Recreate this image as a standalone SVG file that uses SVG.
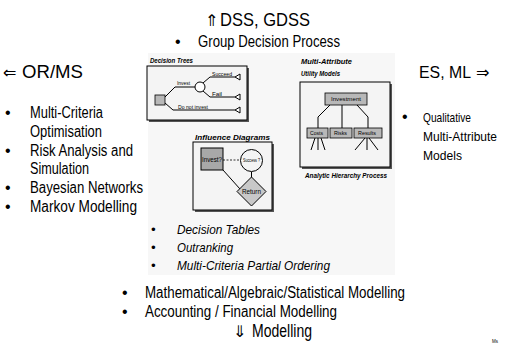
<svg xmlns="http://www.w3.org/2000/svg" width="508" height="344" viewBox="0 0 508 344">
<style>
  .t { font-family: "Liberation Sans", Arial, "DejaVu Sans", sans-serif; fill: #000; }
  .m { font-size: 16px; }
  .r { font-size: 13.5px; }
  .h { font-size: 18px; }
  .ar { font-family: "DejaVu Sans", "Liberation Sans", sans-serif; font-size: 16px; }
  .it { font-size: 13px; font-style: italic; }
  .lab { font-size: 7px; font-weight: bold; font-style: italic; }
  .tiny { font-size: 4.5px; }
  .box { fill: #f4f4f4; stroke: #000; stroke-width: 1; }
  .shd { fill: #555; }
  .ln { fill: none; stroke: #000; stroke-width: 1; }
  .tri { fill: #fff; stroke: #000; stroke-width: 1; }
  .gbox { fill: #b8b8b8; stroke: #000; stroke-width: 0.8; }
</style>
<rect width="508" height="344" fill="#fff"/>
<rect id="panel" x="148" y="53" width="247" height="222" fill="#f7f7f7"/>

<g id="top">
  <text class="ar" x="205" y="26" font-size="19">⇑</text>
  <text class="t h" x="220" y="26" textLength="90" lengthAdjust="spacingAndGlyphs">DSS, GDSS</text>
  <text class="t m" x="175" y="47">•</text>
  <text class="t m" x="198" y="47" textLength="142" lengthAdjust="spacingAndGlyphs">Group Decision Process</text>
</g>

<g id="left">
  <text class="ar" x="3" y="78" font-size="19">⇐</text>
  <text class="t h" x="22" y="78" textLength="61" lengthAdjust="spacingAndGlyphs">OR/MS</text>
  <text class="t m" x="5" y="118">•</text>
  <text class="t m" x="30" y="118" textLength="73" lengthAdjust="spacingAndGlyphs">Multi-Criteria</text>
  <text class="t m" x="30" y="137" textLength="72" lengthAdjust="spacingAndGlyphs">Optimisation</text>
  <text class="t m" x="5" y="156">•</text>
  <text class="t m" x="30" y="156" textLength="103" lengthAdjust="spacingAndGlyphs">Risk Analysis and</text>
  <text class="t m" x="30" y="174" textLength="59" lengthAdjust="spacingAndGlyphs">Simulation</text>
  <text class="t m" x="5" y="193">•</text>
  <text class="t m" x="30" y="193" textLength="113" lengthAdjust="spacingAndGlyphs">Bayesian Networks</text>
  <text class="t m" x="5" y="212">•</text>
  <text class="t m" x="30" y="212" textLength="107" lengthAdjust="spacingAndGlyphs">Markov Modelling</text>
</g>

<g id="right">
  <text class="t" x="419" y="78" font-size="16" textLength="52" lengthAdjust="spacingAndGlyphs">ES, ML</text>
  <text class="ar" x="476" y="78" font-size="19">⇒</text>
  <text class="t m" x="402" y="122">•</text>
  <text class="t r" x="423" y="122" textLength="48" lengthAdjust="spacingAndGlyphs">Qualitative</text>
  <text class="t r" x="423" y="141" textLength="74" lengthAdjust="spacingAndGlyphs">Multi-Attribute</text>
  <text class="t r" x="423" y="160" textLength="39" lengthAdjust="spacingAndGlyphs">Models</text>
</g>

<g id="decision-trees">
  <text class="t lab" x="150" y="63" textLength="43" lengthAdjust="spacingAndGlyphs">Decision Trees</text>
  <rect class="shd" x="149" y="68" width="100" height="54"/>
  <rect class="box" x="147" y="66" width="100" height="54"/>
  <rect class="gbox" x="155" y="95" width="10" height="10"/>
  <polyline class="ln" points="165,97 175,87 195,87"/>
  <circle cx="200" cy="87" r="5" fill="#fff" stroke="#000" stroke-width="1"/>
  <polyline class="ln" points="203,83 210,77 235,77"/>
  <polyline class="ln" points="203,91 210,97 235,97"/>
  <polyline class="ln" points="165,103 173,110 235,110"/>
  <polygon class="tri" points="235,77 240,74 240,80"/>
  <polygon class="tri" points="235,97 240,94 240,100"/>
  <polygon class="tri" points="235,110 240,107 240,113"/>
  <text class="t tiny" x="177" y="85" textLength="13" lengthAdjust="spacingAndGlyphs">Invest</text>
  <text class="t tiny" x="212" y="75.5" textLength="20" lengthAdjust="spacingAndGlyphs">Succeed</text>
  <text class="t tiny" x="212" y="95.5" textLength="10" lengthAdjust="spacingAndGlyphs">Fail</text>
  <text class="t tiny" x="178" y="108.5" textLength="30" lengthAdjust="spacingAndGlyphs">Do not invest</text>
</g>

<g id="maut">
  <text class="t lab" x="301" y="64" textLength="51" lengthAdjust="spacingAndGlyphs">Multi-Attribute</text>
  <text class="t lab" x="301" y="76" textLength="39" lengthAdjust="spacingAndGlyphs">Utility Models</text>
  <rect class="shd" x="302" y="84" width="90" height="85"/>
  <rect class="box" x="300" y="82" width="90" height="85"/>
  <rect class="gbox" x="325" y="93" width="42" height="12"/>
  <text class="t tiny" x="331" y="101" textLength="30" lengthAdjust="spacingAndGlyphs">Investment</text>
  <polyline class="ln" points="330,105 318,117 318,128"/>
  <polyline class="ln" points="342,105 342,128"/>
  <polyline class="ln" points="357,105 368,117 368,128"/>
  <rect class="gbox" x="307" y="128" width="21" height="10"/>
  <rect class="gbox" x="330" y="128" width="22" height="10"/>
  <rect class="gbox" x="354" y="128" width="28" height="10"/>
  <text class="t tiny" x="310" y="135" textLength="13" lengthAdjust="spacingAndGlyphs">Costs</text>
  <text class="t tiny" x="334" y="135" textLength="13" lengthAdjust="spacingAndGlyphs">Risks</text>
  <text class="t tiny" x="358" y="135" textLength="18" lengthAdjust="spacingAndGlyphs">Results</text>
  <path class="ln" d="M315,138 L311,150 M318,138 L318,150 M321,138 L325,150 M365,138 L355,150 M367,138 L367,150 M369,138 L378,150"/>
  <text class="t lab" x="305" y="178" font-size="5.5" textLength="82" lengthAdjust="spacingAndGlyphs">Analytic Hierarchy Process</text>
</g>

<g id="influence-diagrams">
  <text class="t lab" x="195" y="140" textLength="75" lengthAdjust="spacingAndGlyphs">Influence Diagrams</text>
  <rect class="shd" x="195" y="144" width="79" height="68"/>
  <rect class="box" x="193" y="142" width="79" height="68"/>
  <line class="ln" x1="223" y1="170" x2="240" y2="189"/>
  <line class="ln" x1="251.5" y1="172" x2="251.5" y2="177"/>
  <rect x="201" y="148" width="22" height="22" fill="#a8a8a8" stroke="#000" stroke-width="1"/>
  <text class="t" x="202" y="162" font-size="7" textLength="20" lengthAdjust="spacingAndGlyphs">Invest?</text>
  <line x1="223" y1="160" x2="240" y2="160" stroke="#000" stroke-width="0.8" stroke-dasharray="2,1.5"/>
  <circle cx="251.5" cy="160.5" r="11" fill="#f4f4f4" stroke="#000" stroke-width="1"/>
  <text class="t tiny" x="243" y="162" textLength="17" lengthAdjust="spacingAndGlyphs">Success ?</text>
  <polygon points="251.5,177 266,191.5 251.5,206 237,191.5" fill="#c8c8c8" stroke="#000" stroke-width="1"/>
  <text class="t" x="242" y="194" font-size="7" textLength="19" lengthAdjust="spacingAndGlyphs">Return</text>
</g>

<g id="center-list">
  <text class="t it" x="151" y="234" font-style="normal">•</text>
  <text class="t it" x="177" y="234" textLength="83" lengthAdjust="spacingAndGlyphs">Decision Tables</text>
  <text class="t it" x="151" y="252" font-style="normal">•</text>
  <text class="t it" x="177" y="252" textLength="56" lengthAdjust="spacingAndGlyphs">Outranking</text>
  <text class="t it" x="151" y="270" font-style="normal">•</text>
  <text class="t it" x="177" y="270" textLength="153" lengthAdjust="spacingAndGlyphs">Multi-Criteria Partial Ordering</text>
</g>

<g id="bottom">
  <text class="t m" x="122" y="298">•</text>
  <text class="t m" x="145" y="298" textLength="260" lengthAdjust="spacingAndGlyphs">Mathematical/Algebraic/Statistical Modelling</text>
  <text class="t m" x="122" y="317">•</text>
  <text class="t m" x="145" y="317" textLength="192" lengthAdjust="spacingAndGlyphs">Accounting / Financial Modelling</text>
  <text class="ar" x="233" y="337" font-size="19">⇓</text>
  <text class="t h" x="252" y="337" textLength="60" lengthAdjust="spacingAndGlyphs">Modelling</text>
  <text class="t tiny" x="492" y="343" fill="#444">Ms</text>
</g>
</svg>
